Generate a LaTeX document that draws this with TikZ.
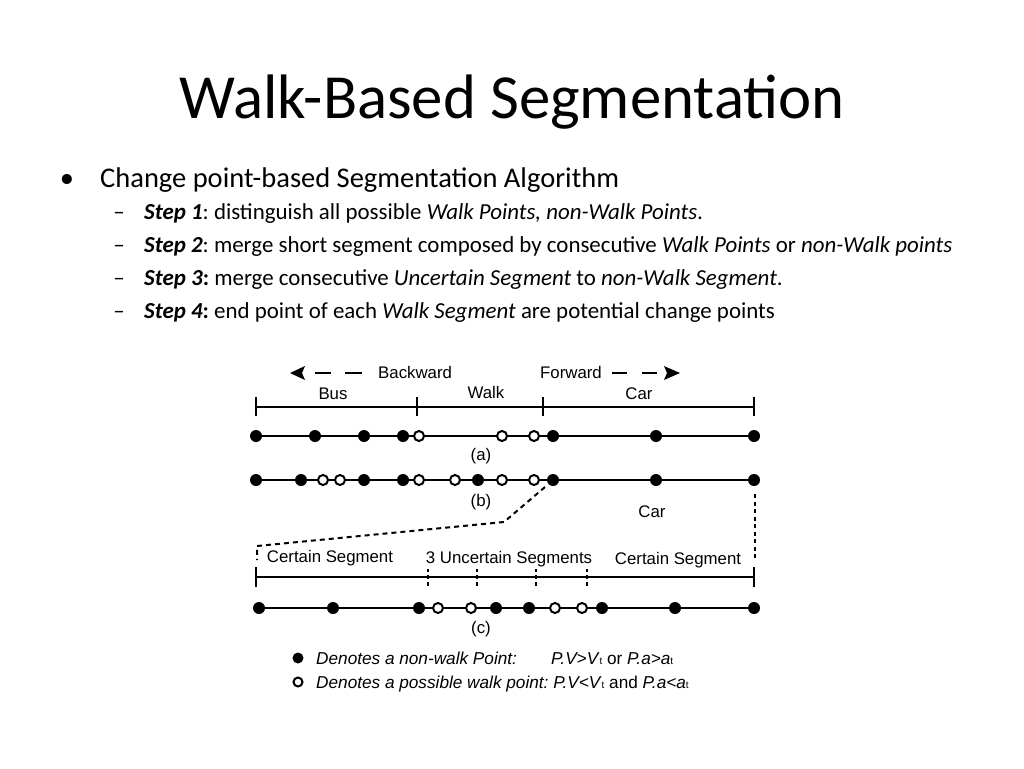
\documentclass[tikz,border=0pt]{standalone}
\usepackage{fontspec}
\setmainfont{Carlito}
\newfontfamily\arial{Liberation Sans}
\usetikzlibrary{backgrounds}
\frenchspacing
\tikzset{
  fdot/.style={circle, fill=black, inner sep=0pt, minimum size=12pt},
  odot/.style={circle, draw=black, line width=2pt, fill=white, inner sep=0pt, minimum size=10pt},
  tline/.style={line width=2.4pt},
  tick/.style={line width=2.4pt},
  dtick/.style={line width=2pt, dash pattern=on 4pt off 3pt},
  dline/.style={line width=2pt, dash pattern=on 5pt off 4pt},
  lab/.style={font=\arial\fontsize{16.8}{18}\selectfont, inner sep=0pt},
  leg/.style={font=\arial\fontsize{17.2}{19}\selectfont, inner sep=0pt, anchor=base west},
  bul/.style={font=\fontsize{28.5}{32}\selectfont, inner sep=0pt, anchor=base west},
  sub/.style={font=\fontsize{22.9}{27}\selectfont, inner sep=0pt, anchor=base west},
}
\newcommand{\lsub}{{\fontsize{10}{10}\selectfont t}}
\begin{document}
\begin{tikzpicture}[x=1pt,y=-1pt]
\useasboundingbox (0,0) rectangle (1024,768);
% title
\node[font=\fontsize{62.8}{70}\selectfont, anchor=base, inner sep=0pt] (title) at (512,118) {Walk-Based Segmentation};
% bullets
\node[bul, anchor=base] (b0) at (67,187) {\textbullet};
\node[bul] (t0) at (100,187) {Change point-based Segmentation Algorithm};
\node[sub, anchor=base] (d1) at (119,219) {--};
\node[sub] (t1) at (144,219) {\textbf{\textit{Step 1}}: distinguish all possible \textit{Walk Points, non-Walk Points}.};
\node[sub, anchor=base] (d2) at (119,252) {--};
\node[sub] (t2) at (144,252) {\textbf{\textit{Step 2}}: merge short segment composed by consecutive \textit{Walk Points} or \textit{non-Walk points}};
\node[sub, anchor=base] (d3) at (119,285) {--};
\node[sub] (t3) at (144,285) {\textbf{\textit{Step 3}:} merge consecutive \textit{Uncertain Segment} to \textit{non-Walk Segment}.};
\node[sub, anchor=base] (d4) at (119,318) {--};
\node[sub] (t4) at (144,318) {\textbf{\textit{Step 4}:} end point of each \textit{Walk Segment} are potential change points};

% direction arrows
\fill (290,373) -- (305,366) -- (302,373) -- (305,380) -- cycle;
\draw[line width=2.2pt] (315,373) -- (331,373) (345,373) -- (362,373);
\node[lab, anchor=west] (bw) at (378,372) {Backward};
\node[lab, anchor=west] (fw) at (540,372) {Forward};
\draw[line width=2.2pt] (612,373) -- (627,373) (642,373) -- (657,373);
\fill (680,373) -- (664,366) -- (667,373) -- (664,380) -- cycle;

% top labels
\node[lab] (bus) at (333,394) {Bus};
\node[lab] (walk) at (486,392) {Walk};
\node[lab] (car1) at (639,394) {Car};

% timeline 1
\coordinate (k1) at (256,407);
\coordinate (k2) at (417,407);
\coordinate (k3) at (543,407);
\coordinate (k4) at (754,407);
\draw[tline] (k1) -- (k4);
\foreach \k in {k1,k2,k3,k4} \draw[tick] ([yshift=-9pt]\k) -- ([yshift=10pt]\k);

% row (a)
\foreach \x/\t [count=\i] in {256/f,315/f,364/f,403/f,419/o,502/o,534/o,553/f,656/f,754/f}
  \node[\t dot] (a\i) at (\x,436) {};
\begin{scope}[on background layer]
\draw[tline] (a1.center) -- (a10.center);
\end{scope}
\node[lab] (la) at (481,456) {(a)};

% row (b)
\foreach \x/\t [count=\i] in {256/f,301/f,323/o,340/o,364/f,403/f,419/o,455/o,478/f,502/o,534/o,553/f,656/f,754/f}
  \node[\t dot] (b\i) at (\x,480) {};
\begin{scope}[on background layer]
\draw[tline] (b1.center) -- (b14.center);
\end{scope}
\node[lab] (lb) at (481,502) {(b)};
\node[lab] (car2) at (652,512) {Car};

% dashed connectors
\coordinate (p0) at (545,487);
\coordinate (p1) at (504,522);
\coordinate (p2) at (257,546);
\coordinate (p3) at (257,560);
\draw[dline] (p0) -- (p1) -- (p2) -- (p3);
\coordinate (q0) at (755,494);
\coordinate (q1) at (755,559);
\draw[line width=2pt, dash pattern=on 4pt off 3.5pt] (q0) -- (q1);

% segment labels
\node[lab] (cs1) at (330,558) {Certain Segment};
\node[lab] (us) at (509,559) {3 Uncertain Segments};
\node[lab] (cs2) at (678,560) {Certain Segment};

% timeline 2
\coordinate (m1) at (256,577);
\coordinate (m2) at (754,577);
\draw[tline] (m1) -- (m2);
\draw[tick] ([yshift=-10pt]m1) -- ([yshift=10pt]m1);
\draw[tick] ([yshift=-10pt]m2) -- ([yshift=10pt]m2);
\foreach \x [count=\i] in {428,477,536,587} {
  \coordinate (u\i) at (\x,577);
  \draw[dtick] ([yshift=-9pt]u\i) -- ([yshift=8pt]u\i);
}

% row (c)
\foreach \x/\t [count=\i] in {259/f,333/f,419/f,438/o,471/o,496/f,529/f,555/o,582/o,602/f,675/f,754/f}
  \node[\t dot] (c\i) at (\x,608) {};
\begin{scope}[on background layer]
\draw[tline] (c1.center) -- (c12.center);
\end{scope}
\node[lab] (lc) at (481,629) {(c)};

% legend
\node[fdot, minimum size=11pt] (lg1) at (298,658) {};
\node[odot, minimum size=9pt] (lg2) at (298,682) {};
\node[leg] (lt1) at (316,664) {\textit{Denotes a non-walk Point:}};
\node[leg] (lf1) at (551,664) {\textit{P.V>V}\lsub{} or \textit{P.a>a}\lsub};
\node[leg] (lt2) at (316,688) {\textit{Denotes a possible walk point: P.V<V}\lsub{} and \textit{P.a<a}\lsub};
\end{tikzpicture}
\end{document}
